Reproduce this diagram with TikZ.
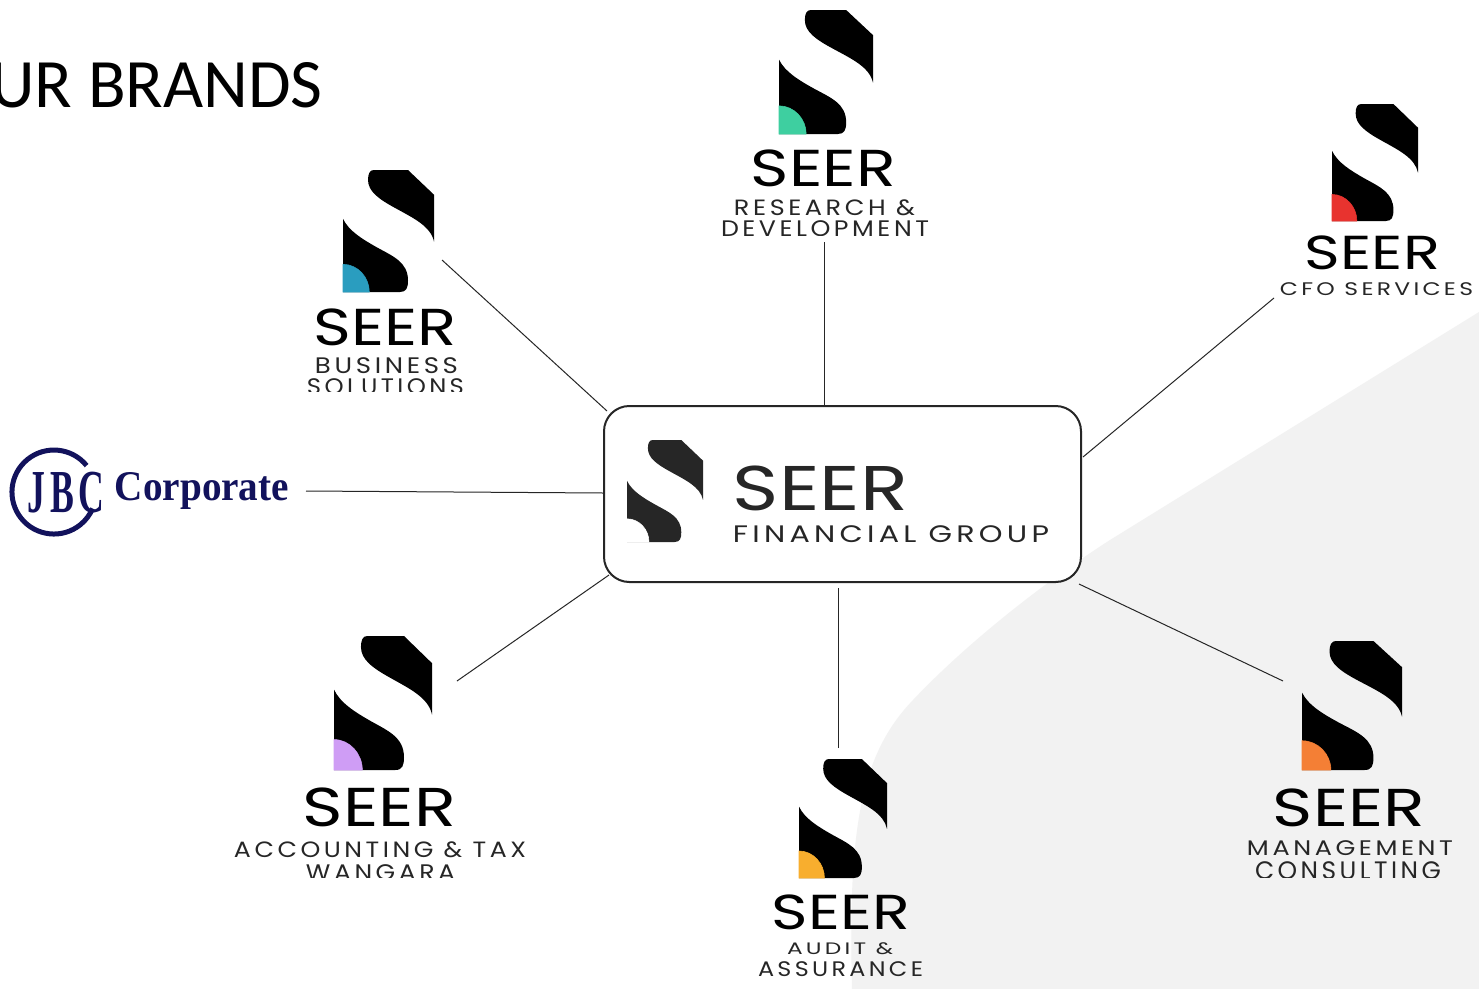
\documentclass[tikz,border=0pt]{standalone}
\usepackage{graphicx}
\usepackage{fontspec}
\setmainfont{Poppins}
\newfontfamily\seerf{Poppins}
\newfontfamily\titlef{Carlito}
\newfontfamily\tagf[LetterSpace=14]{Poppins}
\newfontfamily\jbcf{Liberation Serif}
\newfontfamily\jbcmarkf[LetterSpace=12]{Liberation Serif}
\definecolor{hubink}{HTML}{262626}
\definecolor{wash}{HTML}{F2F2F2}
\definecolor{jbcblue}{HTML}{12125C}
\definecolor{rdgreen}{HTML}{3ECFA0}
\definecolor{cfored}{HTML}{E8332F}
\definecolor{busteal}{HTML}{2A9DBF}
\definecolor{accpurple}{HTML}{CF9DF5}
\definecolor{mgmtorange}{HTML}{F47F35}
\definecolor{audityellow}{HTML}{F8AE2E}
\tikzset{
  link/.style={draw=hubink,line width=0.75pt},
  hubbox/.style={draw=hubink,line width=1.5pt,fill=white,rounded corners=19pt,minimum width=357.75pt,minimum height=132pt,inner sep=0pt},
  fitlabel/.style={inner sep=0pt,outer sep=0pt},
}
% logo: x0 y0 x1 y1 ink accent
\newcommand{\seerlogo}[6]{%
  \begin{scope}[shift={(#1,#2)},xscale={(#3-#1)/280},yscale={(#4-#2)/370}]
    \fill[#5] (95,0) -- (200,0) -- (280,75) -- (280,217)
      .. controls (270,170) and (215,145) .. (160,115)
      .. controls (110,88) and (77,65) .. (77,30)
      .. controls (77,12) and (82,0) .. (95,0) -- cycle;
    \fill[#5] (0,148) .. controls (18,185) and (60,210) .. (105,235)
      .. controls (155,262) and (200,280) .. (200,335)
      .. controls (200,358) and (195,370) .. (175,370) -- (0,370) -- cycle;
    \filldraw[fill=#6,draw=#6,line width=0.4pt] (0,286) .. controls (45,286) and (81,325) .. (81,370) -- (0,370) -- cycle;
  \end{scope}}
% fitted text: name x0 y0 x1 y1 colour font text
\newcommand{\fitnode}[8]{%
  \pgfmathsetlengthmacro{\fitw}{0.75*(#4-#2)}%
  \pgfmathsetlengthmacro{\fith}{0.75*(#5-#3)}%
  \node[fitlabel,text=#6] (#1) at ({(#2+#4)/2},{(#3+#5)/2}) {\resizebox*{\fitw}{\fith}{#7#8}};}
\begin{document}
\begin{tikzpicture}[x={(0.75pt,0)},y={(0,-0.75pt)}]
\useasboundingbox (0,0) rectangle (1479,989);
\fill[white] (0,0) rectangle (1479,989);
% background wash
\fill[wash] (1479,312) -- (1110,540) .. controls (1040,585) and (965,645) .. (913,700)
  .. controls (860,755) and (848,830) .. (852,989) -- (1479,989) -- cycle;
% title
\node[font=\titlef\fontsize{52}{60}\selectfont,text=black,anchor=east,inner sep=0pt] (title) at (323,85) {UR BRANDS};

% hub
\node[hubbox] (hub) at (842.5,494) {};
\seerlogo{627}{440}{703}{542}{hubink}{white}
\fitnode{hubseer}{733}{466}{908}{511}{hubink}{\seerf}{SEER}
\fitnode{hubsub}{733}{526}{1049}{543}{hubink}{\tagf}{FINANCIAL GROUP}

% research
\seerlogo{779}{10}{873}{134}{black}{rdgreen}
\fitnode{rdseer}{751}{150}{896}{187}{black}{\seerf}{SEER}
\fitnode{rdone}{734}{200}{915}{216}{hubink}{\tagf}{RESEARCH \&}
\begin{scope}\clip (700,218) rectangle (950,235);
\fitnode{rdtwo}{721}{221}{929}{237}{hubink}{\tagf}{DEVELOPMENT}
\end{scope}

% cfo
\seerlogo{1332}{104}{1418}{221}{black}{cfored}
\fitnode{cfoseer}{1305}{236}{1440}{270}{black}{\seerf}{SEER}
\fitnode{cfoone}{1280}{283}{1473}{296}{hubink}{\tagf}{CFO SERVICES}

% business
\seerlogo{343}{170}{434}{292}{black}{busteal}
\fitnode{busseer}{314}{309}{457}{346}{black}{\seerf}{SEER}
\fitnode{busone}{315}{358}{458}{374}{hubink}{\tagf}{BUSINESS}
\begin{scope}\clip (290,376) rectangle (480,391);
\fitnode{bustwo}{307}{379}{464}{395}{hubink}{\tagf}{SOLUTIONS}
\end{scope}

% accounting
\seerlogo{334}{636}{432}{770}{black}{accpurple}
\fitnode{accseer}{303}{788}{456}{827}{black}{\seerf}{SEER}
\fitnode{accone}{234}{842}{526}{858}{hubink}{\tagf}{ACCOUNTING \& TAX}
\begin{scope}\clip (280,860) rectangle (480,877);
\fitnode{acctwo}{306}{865}{455}{881}{hubink}{\tagf}{WANGARA}
\end{scope}

% management
\seerlogo{1302}{641}{1402}{770}{black}{mgmtorange}
\fitnode{mgseer}{1273}{789}{1425}{827}{black}{\seerf}{SEER}
\fitnode{mgone}{1247}{841}{1453}{856}{hubink}{\tagf}{MANAGEMENT}
\begin{scope}\clip (1230,858) rectangle (1470,877);
\fitnode{mgtwo}{1255}{862}{1441}{880}{hubink}{\tagf}{CONSULTING}
\end{scope}

% audit
\seerlogo{799}{759}{887}{878}{black}{audityellow}
\fitnode{audseer}{772}{895}{910}{930}{black}{\seerf}{SEER}
\fitnode{audone}{787}{943}{893}{955}{hubink}{\tagf}{AUDIT \&}
\fitnode{audtwo}{758}{962}{923}{977}{hubink}{\tagf}{ASSURANCE}

% JBC
\draw[jbcblue,line width=3.75pt] (86.6,465.6) arc[start angle=-39,end angle=-337,radius=42];
\fitnode{jbcmark}{28}{472}{104}{513}{jbcblue}{\jbcmarkf\bfseries}{JBC}
\fitnode{jbcword}{115}{472}{289}{509}{jbcblue}{\jbcf\bfseries}{Corporate}

% connector free ends
\coordinate (rdEnd) at (824,242);
\coordinate (cfoEnd) at (1274,298);
\coordinate (busEnd) at (442,260);
\coordinate (jbcEnd) at (306,491);
\coordinate (accEnd) at (457,681);
\coordinate (audEnd) at (838,748);
\coordinate (mgEnd) at (1283,681);

\draw[link] (rdEnd) -- (rdEnd |- hub.north);
\draw[link] (cfoEnd) -- ([shift={(1,52)}]hub.north east);
\draw[link] (busEnd) -- ([shift={(4,6)}]hub.north west);
\draw[link] (jbcEnd) -- ([shift={(0,88)}]hub.north west);
\draw[link] (accEnd) -- ([shift={(6,-8)}]hub.south west);
\draw[link] (audEnd) -- ([yshift=-3.75pt]audEnd |- hub.south);
\draw[link] (mgEnd) -- ([shift={(-3,1)}]hub.south east);
\end{tikzpicture}
\end{document}
